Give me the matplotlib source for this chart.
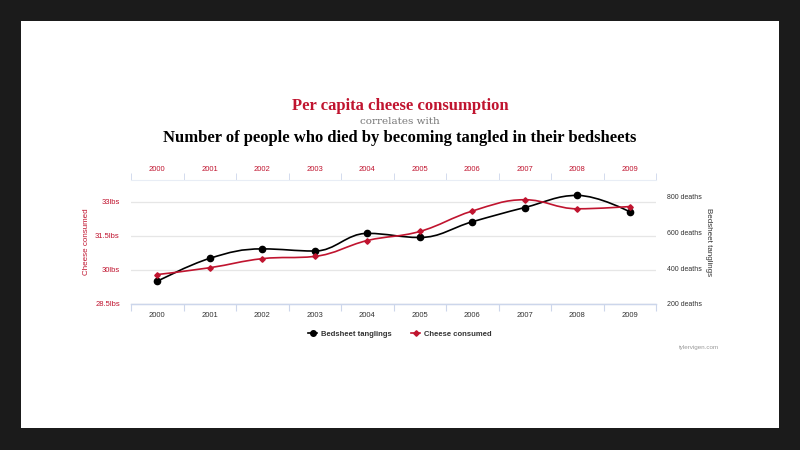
import matplotlib
matplotlib.use('Agg')
import matplotlib.pyplot as plt
from matplotlib.path import Path
from matplotlib.patches import PathPatch, Rectangle
from matplotlib.lines import Line2D

years = [2000, 2001, 2002, 2003, 2004, 2005, 2006, 2007, 2008, 2009]
bedsheet_deaths = [327, 456, 509, 497, 596, 573, 661, 741, 809, 717]
cheese_lbs = [29.8, 30.1, 30.5, 30.6, 31.3, 31.7, 32.6, 33.1, 32.7, 32.8]
cheese_ticks = [28.5, 30, 31.5, 33]
cheese_tick_labels = ['28.5lbs', '30lbs', '31.5lbs', '33lbs']
death_ticks = [200, 400, 600, 800]
death_tick_labels = ['200 deaths', '400 deaths', '600 deaths', '800 deaths']

RED = '#c0142f'
AXIS_BLUE = '#ccd6eb'
GRID = '#e6e6e6'

plt.rcParams['font.family'] = ['Liberation Sans', 'DejaVu Sans']


def spline_path(xs, ys, smoothing=1.5):
    # highcharts-style smooth spline as cubic bezier segments
    n = len(xs)
    left = [(xs[i], ys[i]) for i in range(n)]
    right = [(xs[i], ys[i]) for i in range(n)]
    d = smoothing + 1
    for i in range(1, n - 1):
        x, y = xs[i], ys[i]
        lx, ly = xs[i - 1], ys[i - 1]
        nx, ny = xs[i + 1], ys[i + 1]
        lcx = (smoothing * x + lx) / d
        lcy = (smoothing * y + ly) / d
        rcx = (smoothing * x + nx) / d
        rcy = (smoothing * y + ny) / d
        corr = 0
        if rcx != lcx:
            corr = ((rcy - lcy) * (rcx - x)) / (rcx - lcx) + y - rcy
        lcy += corr
        rcy += corr
        if lcy > ly and lcy > y:
            lcy = max(ly, y)
            rcy = 2 * y - lcy
        elif lcy < ly and lcy < y:
            lcy = min(ly, y)
            rcy = 2 * y - lcy
        if rcy > ny and rcy > y:
            rcy = max(ny, y)
            lcy = 2 * y - rcy
        elif rcy < ny and rcy < y:
            rcy = min(ny, y)
            lcy = 2 * y - rcy
        left[i] = (lcx, lcy)
        right[i] = (rcx, rcy)
    verts = [(xs[0], ys[0])]
    codes = [Path.MOVETO]
    for i in range(1, n):
        verts += [right[i - 1], left[i], (xs[i], ys[i])]
        codes += [Path.CURVE4] * 3
    return Path(verts, codes)


W, H = 800, 450
fig = plt.figure(figsize=(8, 4.5), dpi=100)
fig.patch.set_facecolor('#1b1b1b')
fig.patches.append(Rectangle((21 / W, 1 - 428 / H), 758 / W, 407 / H,
                             transform=fig.transFigure, facecolor='white',
                             edgecolor='none', zorder=-5))

ax = fig.add_axes([131 / W, 1 - 304 / H, 525 / W, 124 / H])
ax2 = ax.twinx()
ax.patch.set_visible(False)
ax2.patch.set_visible(False)

x = list(range(len(years)))

# axis scales first, both series drawn on the top axes
ax.set_xlim(-0.5, len(years) - 0.5)
ax.set_ylim(28.5, 28.5 + 124 / 34 * 1.5)
ax2.set_ylim(200, 200 + 124 / 107 * 600)

# bedsheet deaths (right axis)
ax2.add_patch(PathPatch(spline_path(x, bedsheet_deaths), facecolor='none',
                        edgecolor='black', lw=1.2, zorder=3))
ax2.plot(x, bedsheet_deaths, 'o', color='black', ms=4.5, zorder=4)

# cheese (left axis scale)
ax2.add_patch(PathPatch(spline_path(x, cheese_lbs), facecolor='none',
                        edgecolor=RED, lw=1.2, zorder=5,
                        transform=ax.transData))
ax2.plot(x, cheese_lbs, 'D', color=RED, ms=2.8, zorder=6,
         transform=ax.transData)
ax2.set_ylim(200, 200 + 124 / 107 * 600)

ax2.set_yticks(death_ticks)
ax2.set_yticklabels(death_tick_labels, fontsize=5, color='#333333')
ax2.tick_params(axis='y', length=0, pad=8)
ax2.set_ylabel('Bedsheet tanglings', fontsize=5.8, color='#333333',
               rotation=-90, labelpad=7)

ax.set_yticks(cheese_ticks)
ax.set_yticklabels(cheese_tick_labels, fontsize=5.5, color=RED)
ax.tick_params(axis='y', length=0, pad=8)
ax.set_ylabel('Cheese consumed', fontsize=5.8, color=RED, labelpad=4)
ax.yaxis.grid(True, color=GRID, lw=0.9)
ax.set_ylim(28.5, 28.5 + 124 / 34 * 1.5)

ax.set_xticks(x)
ax.set_xticklabels([str(y) for y in years], fontsize=5.5, color='#333333')
ax.set_xticks([i - 0.5 for i in range(len(years) + 1)], minor=True)
ax.tick_params(axis='x', which='major', length=0, pad=6)
ax.tick_params(axis='x', which='minor', length=5, color=AXIS_BLUE, width=0.8)
ax.set_xlim(-0.5, len(years) - 0.5)

# top axis with red year labels
top = ax.secondary_xaxis('top')
top.set_xticks(x)
top.set_xticklabels([str(y) for y in years], fontsize=5.5, color=RED)
top.set_xticks([i - 0.5 for i in range(len(years) + 1)], minor=True)
top.tick_params(axis='x', which='major', length=0, pad=5)
top.tick_params(axis='x', which='minor', length=5, color=AXIS_BLUE, width=0.6)
top.spines['top'].set_color('#e8edf5')
top.spines['top'].set_linewidth(0.8)

for a in (ax, ax2):
    for s in ('left', 'right', 'top'):
        a.spines[s].set_visible(False)
    a.spines['bottom'].set_color(AXIS_BLUE)
    a.spines['bottom'].set_linewidth(0.9)

# titles
fig.text(0.5, 1 - 106 / H, 'Per capita cheese consumption', ha='center',
         va='center', fontsize=12, fontweight='bold', color=RED,
         family='Liberation Serif')
fig.text(0.5, 1 - 121 / H, 'correlates with', ha='center', va='center',
         fontsize=7.5, color='#777777', family='DejaVu Serif')
fig.text(0.5, 1 - 138 / H,
         'Number of people who died by becoming tangled in their bedsheets',
         ha='center', va='center', fontsize=12, fontweight='bold',
         color='black', family='Liberation Serif')

# legend
handles = [Line2D([], [], color='black', marker='o', ms=4, lw=1.2),
           Line2D([], [], color=RED, marker='D', ms=2.8, lw=1.2)]
fig.legend(handles, ['Bedsheet tanglings', 'Cheese consumed'],
           loc='center', bbox_to_anchor=(400 / W, 1 - 334 / H), ncol=2,
           frameon=False, handlelength=1.2, handletextpad=0.5,
           columnspacing=2.5, prop={'size': 5.5, 'weight': 'bold'},
           labelcolor='#333333')

fig.text(719 / W, 1 - 348 / H, 'tylervigen.com', ha='right', va='center',
         fontsize=4.5, color='#999999')

fig.savefig('out.png', dpi=100, facecolor=fig.get_facecolor())
